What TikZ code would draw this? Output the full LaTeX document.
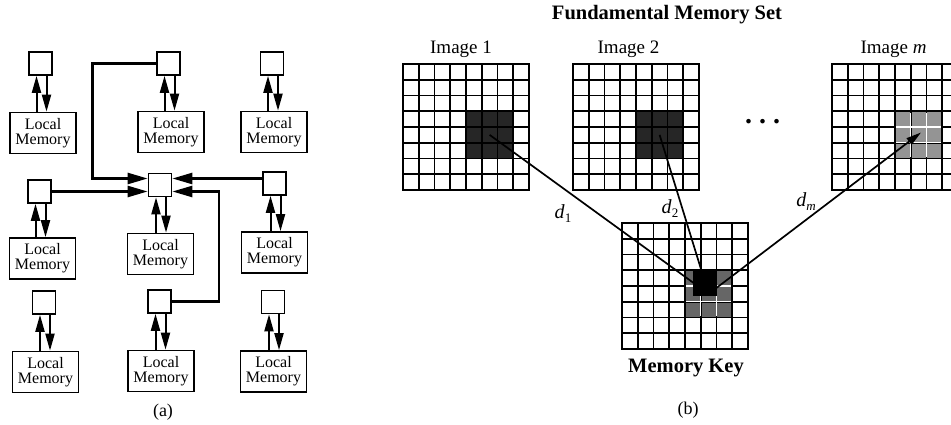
\documentclass[tikz,border=0pt]{standalone}
\usepackage{fontspec}
\setmainfont{Liberation Serif}
\usetikzlibrary{arrows.meta,calc}

% cell size of the 8x8 pixel grids
\def\cs{15.75}

\tikzset{
  proc/.style={draw, line width=1.7pt, minimum width=23pt, minimum height=23pt, inner sep=0pt},
  mem/.style={draw, line width=1.7pt, minimum width=66pt, minimum height=41pt, inner sep=0pt,
              align=center, font=\fontsize{16}{15}\selectfont},
  vlink/.style={line width=2pt, -{Triangle[length=17pt,width=9pt]}},
  hlink/.style={line width=2.4pt, -{Triangle[length=20pt,width=11pt]}},
  gridline/.style={line width=1.7pt, line cap=rect},
  dline/.style={line width=1.7pt},
  caption/.style={inner sep=0pt, font=\fontsize{18}{18}\selectfont},
  imglabel/.style={inner sep=0pt, font=\fontsize{19}{19}\selectfont},
  boldlabel/.style={inner sep=0pt, font=\fontsize{20.5}{20.5}\selectfont\bfseries},
  dlabel/.style={inner sep=0pt, font=\fontsize{20}{20}\selectfont},
}

% 8x8 grid with a shaded 3x3 block; #1,#2 = top-left corner, #3 = block fill
\newcommand{\pixgrid}[3]{%
  \fill[#3] (#1+4*\cs, #2+3*\cs) rectangle (#1+7*\cs, #2+6*\cs);
  \foreach \i in {0,...,8}{
    \draw[gridline] (#1+\i*\cs, #2) -- (#1+\i*\cs, #2+8*\cs);
    \draw[gridline] (#1, #2+\i*\cs) -- (#1+8*\cs, #2+\i*\cs);
  }}
% light gaps between the shaded cells of a block
\newcommand{\cellgaps}[2]{%
  \foreach \i in {5,6}{
    \draw[white, line width=1.1pt] (#1+\i*\cs, #2+3*\cs+1.4) -- (#1+\i*\cs, #2+6*\cs-1.4);
  }
  \foreach \i in {4,5}{
    \draw[white, line width=1.1pt] (#1+4*\cs+1.4, #2+\i*\cs) -- (#1+7*\cs-1.4, #2+\i*\cs);
  }}
% processor to local memory: up and down arrows
\newcommand{\pairlink}[2]{%
  \path ([xshift=-4pt]#1.south) coordinate (#1-u) ([xshift=6pt]#1.south) coordinate (#1-d);
  \draw[vlink] (#1-u |- #2.north) -- (#1-u);
  \draw[vlink] (#1-d) -- (#1-d |- #2.north);}

\begin{document}
\begin{tikzpicture}[x=1pt, y=-1pt]
\useasboundingbox (0,0) rectangle (951,425);

% ---------------- (a) processors with local memories ----------------
\node[proc] (s11) at (40.5,63.5) {};
\node[proc] (s12) at (168.5,63.5) {};
\node[proc] (s13) at (272,63.5) {};
\node[proc] (s21) at (39.5,191.5) {};
\node[proc] (s22) at (160,185) {};
\node[proc] (s23) at (274.5,183.5) {};
\node[proc] (s31) at (44,302.5) {};
\node[proc] (s32) at (159.5,301.5) {};
\node[proc] (s33) at (273,302) {};

\node[mem] (m11) at (43,133) {Local\\Memory};
\node[mem] (m12) at (171,132) {Local\\Memory};
\node[mem] (m13) at (274,132) {Local\\Memory};
\node[mem] (m21) at (42.5,258.5) {Local\\Memory};
\node[mem] (m22) at (160.5,254) {Local\\Memory};
\node[mem] (m23) at (274.5,252.5) {Local\\Memory};
\node[mem] (m31) at (45.5,372) {Local\\Memory};
\node[mem] (m32) at (161,371) {Local\\Memory};
\node[mem] (m33) at (273.5,371.5) {Local\\Memory};

\pairlink{s11}{m11}
\pairlink{s12}{m12}
\pairlink{s13}{m13}
\pairlink{s21}{m21}
\pairlink{s22}{m22}
\pairlink{s23}{m23}
\pairlink{s31}{m31}
\pairlink{s32}{m32}
\pairlink{s33}{m33}

% messages sent to the central processor
\draw[hlink] (s12.west) -- ++(-63.5,0) |- ([yshift=6.5pt]s22.west);
\draw[hlink] (s21.east) -- ([yshift=-6.5pt]s22.west);
\draw[hlink] ([yshift=6.5pt]s22.east -| s23.west) -- ([yshift=6.5pt]s22.east);
\draw[hlink] (s32.east) -- ++(47,0) |- ([yshift=-6.5pt]s22.east);

\node[caption] (capa) at (163,412) {(a)};

% ---------------- (b) fundamental memory set and key ----------------
\node[boldlabel] (title) at (667,15) {Fundamental Memory Set};
\node[imglabel] (lab1) at (461,49) {Image 1};
\node[imglabel] (lab2) at (628.5,49) {Image 2};
\node[imglabel] (labm) at (893.5,49) {Image \textit{m}};

\pixgrid{403}{64}{black!85}
\pixgrid{573}{64}{black!85}
\begin{scope}
  \clip (0,0) rectangle (951,425);
  \pixgrid{832}{64}{black!42}
  \cellgaps{832}{64}
\end{scope}

\node[inner sep=0pt, font=\fontsize{28}{28}\selectfont\bfseries] (dots) at (762.5,122)
  {.\hspace{7pt}.\hspace{7pt}.};

\pixgrid{622}{223}{black!60}
\cellgaps{622}{223}
\fill[black] (693,271) rectangle (717,296);

\node[boldlabel] (keylab) at (686,368) {Memory Key};
\node[caption] (capb) at (688,410) {(b)};

% block centres
\coordinate (c1) at (403+5.5*\cs, 64+4.5*\cs);
\coordinate (c2) at (573+5.5*\cs, 64+4.5*\cs);
\coordinate (cm) at (921,132.5);
\coordinate (k)  at (622+5.5*\cs, 223+4.5*\cs);

\draw[dline] (k) -- (c1);
\draw[dline] (k) -- (c2);
\draw[dline, -{Triangle[length=15pt,width=8pt]}] (k) -- (cm);

\node[dlabel] (d1) at (563,214) {\textit{d}\raisebox{-4pt}{\fontsize{13}{13}\selectfont 1}};
\node[dlabel] (d2) at (670,209) {\textit{d}\raisebox{-4pt}{\fontsize{13}{13}\selectfont 2}};
\node[dlabel] (dm) at (806,202) {\textit{d}\raisebox{-4pt}{\fontsize{13}{13}\selectfont\itshape m}};
\end{tikzpicture}
\end{document}
